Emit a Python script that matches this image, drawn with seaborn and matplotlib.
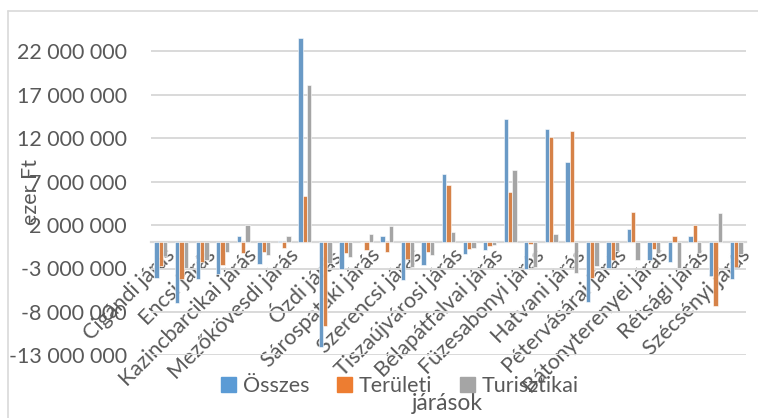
import numpy as np
import pandas as pd
import matplotlib
matplotlib.use('Agg')
from matplotlib import pyplot as plt
from matplotlib.ticker import FuncFormatter
import matplotlib.patches as mpatches
import matplotlib.transforms as mtransforms
from matplotlib.lines import Line2D
import seaborn as sns

# =============================================================================
# data (ezer Ft)
# =============================================================================
jarasok = ['Cigándi', 'Edelényi', 'Encsi', 'Gönci', 'Kazincbarcikai', 'Mezőcsáti',
           'Mezőkövesdi', 'Miskolci', 'Ózdi', 'Putnoki', 'Sárospataki',
           'Sátoraljaújhelyi', 'Szerencsi', 'Szikszói', 'Tiszaújvárosi', 'Tokaji',
           'Bélapátfalvai', 'Egri', 'Füzesabonyi', 'Gyöngyösi', 'Hatvani', 'Hevesi',
           'Pétervásárai', 'Balassagyarmati', 'Bátonyterenyei', 'Pásztói',
           'Rétsági', 'Salgótarjáni', 'Szécsényi']
jarasok = [j + ' járás' for j in jarasok]

osszes = [-4100000, -7000000, -4250000, -3600000, 800000, -2500000,
          150000, 23500000, -12000000, -3050000, 100000,
          750000, -4300000, -2600000, 7900000, -1350000,
          -850000, 14200000, -3100000, 13100000, 9300000, -6900000,
          -2950000, 1550000, -2050000, -2200000,
          750000, -3900000, -4200000]
teruleti = [-2700000, -4250000, -2250000, -2600000, -1250000, -1050000,
            -600000, 5400000, -9600000, -1250000, -850000,
            -1150000, -1850000, -1050000, 6600000, -700000,
            -450000, 5800000, -150000, 12100000, 12850000, -4100000,
            -2000000, 3550000, -800000, 750000,
            2000000, -7300000, -2800000]
turisztikai = [-1600000, -2900000, -2000000, -1050000, 2000000, -1500000,
               750000, 18100000, -2400000, -1700000, 950000,
               1950000, -2800000, -1500000, 1150000, -600000,
               -350000, 8350000, -2800000, 1000000, -3550000, -2750000,
               -950000, -2000000, -1250000, -2950000,
               -1250000, 3350000, -1350000]

series_names = ['Összes', 'Területi', 'Turisztikai']
colors = ['#5B9BD5', '#ED7D31', '#A5A5A5']

df = pd.DataFrame({'jaras': jarasok * 3,
                   'tipus': np.repeat(series_names, len(jarasok)),
                   'ertek': osszes + teruleti + turisztikai})

# =============================================================================
# plot
# =============================================================================
sns.set_style('white')
plt.rcParams['font.family'] = ['Lato', 'DejaVu Sans']
txt_col = '#595959'
grid_col = '#d9d9d9'
fs = 15.5

W, H = 758, 418
fig = plt.figure(figsize=(W / 100, H / 100), dpi=100)
ax = fig.add_axes([150.7 / W, 1 - 355.3 / H, (746.3 - 150.7) / W, (355.3 - 29.8) / H])

sns.barplot(data=df, x='jaras', y='ertek', hue='tipus', palette=colors,
            width=0.63, ax=ax, legend=False, edgecolor='white', linewidth=0.4)

ax.set_ylim(-13000000, 24500000)
ax.set_xlim(-0.5, len(jarasok) - 0.5)
ax.set_yticks(np.arange(-13000000, 22000001, 5000000))
ax.yaxis.set_major_formatter(FuncFormatter(lambda v, p: '{:,.0f}'.format(v).replace(',', ' ')))
ax.yaxis.grid(True, color=grid_col, linewidth=1.4)
ax.set_axisbelow(True)
for s in ['left', 'top', 'right']:
    ax.spines[s].set_visible(False)
ax.spines['bottom'].set_position(('data', 0))
ax.spines['bottom'].set_color(grid_col)
ax.spines['bottom'].set_linewidth(1.6)
ax.spines['bottom'].set_zorder(0.5)

ax.set_xticks(range(0, len(jarasok), 2))
ax.set_xticklabels(jarasok[::2], rotation=45, ha='right', va='top',
                   rotation_mode='anchor')
ax.tick_params(axis='both', length=0, labelsize=fs, labelcolor=txt_col)
ax.tick_params(axis='x', pad=4)
ax.tick_params(axis='y', pad=17)
ax.set_xlabel('')
ax.set_ylabel('')

# nudge category labels so the text end sits a bit right of the group
shift = mtransforms.ScaledTranslation(4 / 100, 3 / 100, fig.dpi_scale_trans)
for lab in ax.get_xticklabels():
    lab.set_transform(lab.get_transform() + shift)

fig.text(31 / W, 1 - 192 / H, 'ezer Ft', rotation=90, ha='center', va='center',
         fontsize=fs, color=txt_col)
fig.text(447 / W, 1 - 404 / H, 'járások', ha='center', va='center',
         fontsize=16.5, color=txt_col)

handles = [mpatches.Patch(color=c) for c in colors]
fig.legend(handles, series_names, loc='center', bbox_to_anchor=(400 / W, 1 - 386 / H),
           ncol=3, frameon=False, fontsize=fs, labelcolor=txt_col,
           handlelength=0.7, handleheight=0.7, handletextpad=0.3, columnspacing=1.3)

# chart area border (cropped at right / bottom)
fig.add_artist(Line2D([8.3 / W, 8.3 / W], [0, 1 - 10.7 / H], color=grid_col,
                      linewidth=1.2, transform=fig.transFigure))
fig.add_artist(Line2D([8.3 / W, 1], [1 - 10.7 / H, 1 - 10.7 / H], color=grid_col,
                      linewidth=1.2, transform=fig.transFigure))

fig.savefig('out.png', dpi=100)
